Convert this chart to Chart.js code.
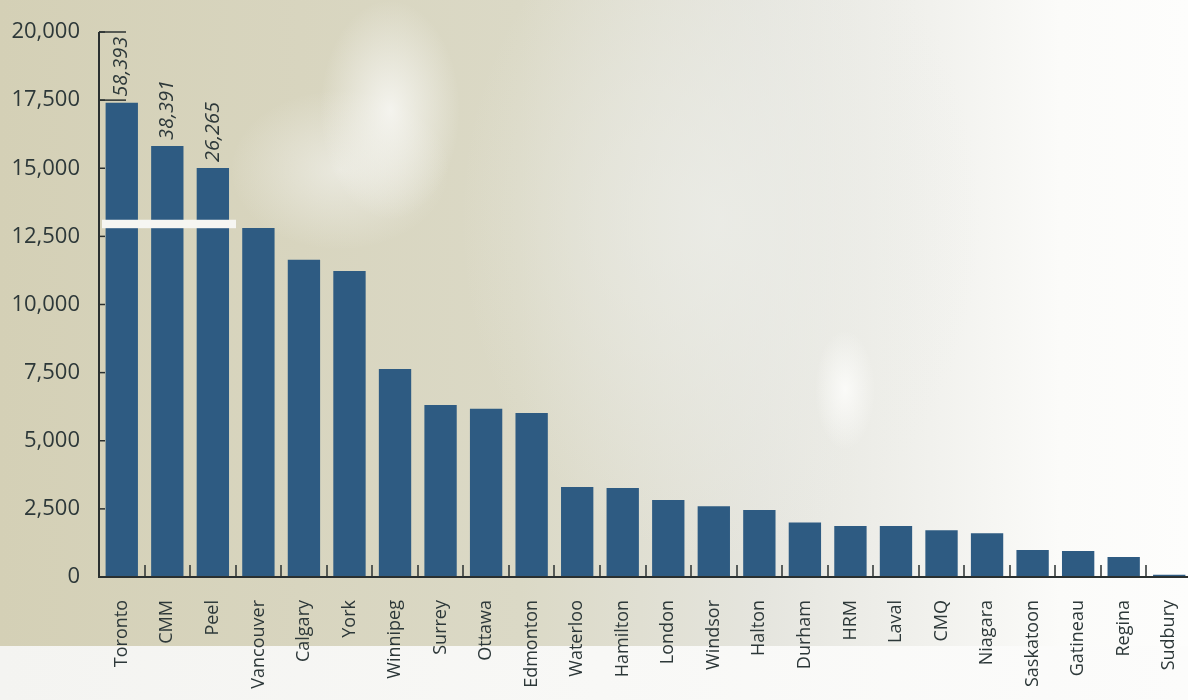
<!DOCTYPE html>
<html>
<head>
<meta charset="utf-8">
<script src="https://cdn.jsdelivr.net/npm/chart.js@4"></script>
<style>
  html, body { margin: 0; padding: 0; }
  body {
    width: 1188px; height: 700px; overflow: hidden; position: relative;
    background:
      radial-gradient(ellipse 70px 110px at 390px 110px, rgba(250,250,248,0.8), rgba(250,250,248,0) 100%),
      radial-gradient(ellipse 110px 80px at 340px 170px, rgba(245,245,242,0.6), rgba(245,245,242,0) 100%),
      radial-gradient(ellipse 30px 60px at 845px 390px, rgba(252,252,250,0.9), rgba(252,252,250,0) 100%),
      radial-gradient(ellipse 260px 340px at 720px 220px, rgba(236,237,232,0.8), rgba(236,237,232,0) 100%),
      linear-gradient(to right, #d4d0b6 0px, #d8d5bf 300px, #dbd9c6 520px, #e5e5de 760px, #f1f1ed 930px, #fbfbf9 1060px, #fdfdfc 1188px);
  }
  #strip {
    position: absolute; left: 0; top: 646px; width: 1188px; height: 54px;
    background: linear-gradient(to right, #f4f4f1, #f8f8f6 600px, #fcfcfb);
  }
  #wrap { position: absolute; left: 0; top: 0; width: 1192px; height: 700px; }
</style>
</head>
<body>
<div id="strip"></div>
<div id="wrap"><canvas id="grafico" width="1192" height="700"></canvas></div>
<script>
// categorias y valores
const categorias = ['Toronto', 'CMM', 'Peel', 'Vancouver', 'Calgary', 'York', 'Winnipeg', 'Surrey',
  'Ottawa', 'Edmonton', 'Waterloo', 'Hamilton', 'London', 'Windsor', 'Halton', 'Durham', 'HRM',
  'Laval', 'CMQ', 'Niagara', 'Saskatoon', 'Gatineau', 'Regina', 'Sudbury'];
const valores = [58393, 38391, 26265, 12810, 11640, 11230, 7630, 6310, 6170, 6020, 3300, 3270,
  2830, 2600, 2460, 2000, 1870, 1870, 1720, 1610, 990, 950, 730, 80];
// alturas dibujadas para las barras con eje cortado
const alturasCortadas = [17400, 15820, 15010];
const etiquetasY = [0, 2500, 5000, 7500, 10000, 12500, 15000, 17500, 20000];
const corte = [12800, 13110];

const alturas = valores.map((v, i) => i < alturasCortadas.length ? alturasCortadas[i] : v);

const colorTexto = '#2d3839';
const colorEje = '#2a3030';
const fuente = "'Open Sans', 'Noto Sans', sans-serif";

const extras = {
  id: 'extras',
  afterDatasetsDraw(chart) {
    const ctx = chart.ctx;
    const x = chart.scales.x, y = chart.scales.y;
    const area = chart.chartArea;
    const barras = chart.getDatasetMeta(0).data;
    ctx.save();

    // banda blanca del corte
    const ultima = barras[alturasCortadas.length - 1];
    ctx.fillStyle = '#f6f6f2';
    ctx.fillRect(area.left + 3, y.getPixelForValue(corte[1]),
      ultima.x + ultima.width / 2 + 7 - area.left - 3,
      y.getPixelForValue(corte[0]) - y.getPixelForValue(corte[1]));

    ctx.strokeStyle = colorEje;
    ctx.lineWidth = 2;
    // ejes
    ctx.beginPath();
    ctx.moveTo(area.left, y.getPixelForValue(20000));
    ctx.lineTo(area.left, area.bottom);
    ctx.lineTo(area.right, area.bottom);
    ctx.stroke();

    // marcas del eje y (hacia dentro)
    ctx.lineWidth = 1.5;
    etiquetasY.forEach(v => {
      const py = y.getPixelForValue(v);
      ctx.beginPath();
      ctx.moveTo(area.left, py);
      ctx.lineTo(area.left + 6, py);
      ctx.stroke();
    });
    // corchete del valor de Toronto
    [20000, 17500].forEach(v => {
      const py = y.getPixelForValue(v);
      ctx.beginPath();
      ctx.moveTo(area.left, py);
      ctx.lineTo(area.left + 27, py);
      ctx.stroke();
    });

    // marcas del eje x entre barras
    const paso = (area.right - area.left) / categorias.length;
    for (let i = 1; i < categorias.length; i++) {
      const px = Math.round(area.left + i * paso);
      ctx.beginPath();
      ctx.moveTo(px, area.bottom);
      ctx.lineTo(px, area.bottom - 12);
      ctx.stroke();
    }

    // valores reales sobre las barras cortadas
    ctx.fillStyle = colorTexto;
    ctx.font = "italic 20px " + fuente;
    ctx.textAlign = 'left';
    ctx.textBaseline = 'middle';
    for (let i = 0; i < alturasCortadas.length; i++) {
      const b = barras[i];
      ctx.save();
      ctx.translate(b.x, b.y - 6);
      ctx.rotate(-Math.PI / 2);
      ctx.fillText(valores[i].toLocaleString('en-US'), 0, 0);
      ctx.restore();
    }
    ctx.restore();
  }
};

const grafico = new Chart(document.getElementById('grafico'), {
  type: 'bar',
  data: {
    labels: categorias,
    datasets: [{
      data: alturas,
      backgroundColor: '#2e5b82',
      barPercentage: 0.71,
      categoryPercentage: 1.0
    }]
  },
  options: {
    responsive: false,
    animation: false,
    layout: { padding: { top: 32, right: 0, left: 0, bottom: 0 } },
    plugins: { legend: { display: false }, tooltip: { enabled: false } },
    scales: {
      x: {
        offset: true,
        grid: { display: false, drawTicks: false },
        border: { display: false },
        ticks: {
          minRotation: 90, maxRotation: 90, autoSkip: false, padding: 23,
          color: colorTexto, font: { size: 18, family: fuente }
        },
        afterFit(scale) {
          scale.height = 123;
          scale.paddingLeft = 0;
          scale.paddingRight = 0;
        }
      },
      y: {
        min: 0, max: 20000,
        grid: { display: false, drawTicks: false },
        border: { display: false },
        afterBuildTicks(scale) { scale.ticks = etiquetasY.map(v => ({ value: v })); },
        ticks: {
          padding: 19, color: colorTexto, font: { size: 22, family: fuente },
          callback: v => v.toLocaleString('en-US')
        },
        afterFit(scale) {
          scale.width = 99;
          scale.paddingTop = 0;
          scale.paddingBottom = 0;
        }
      }
    }
  },
  plugins: [extras]
});
</script>
</body>
</html>
